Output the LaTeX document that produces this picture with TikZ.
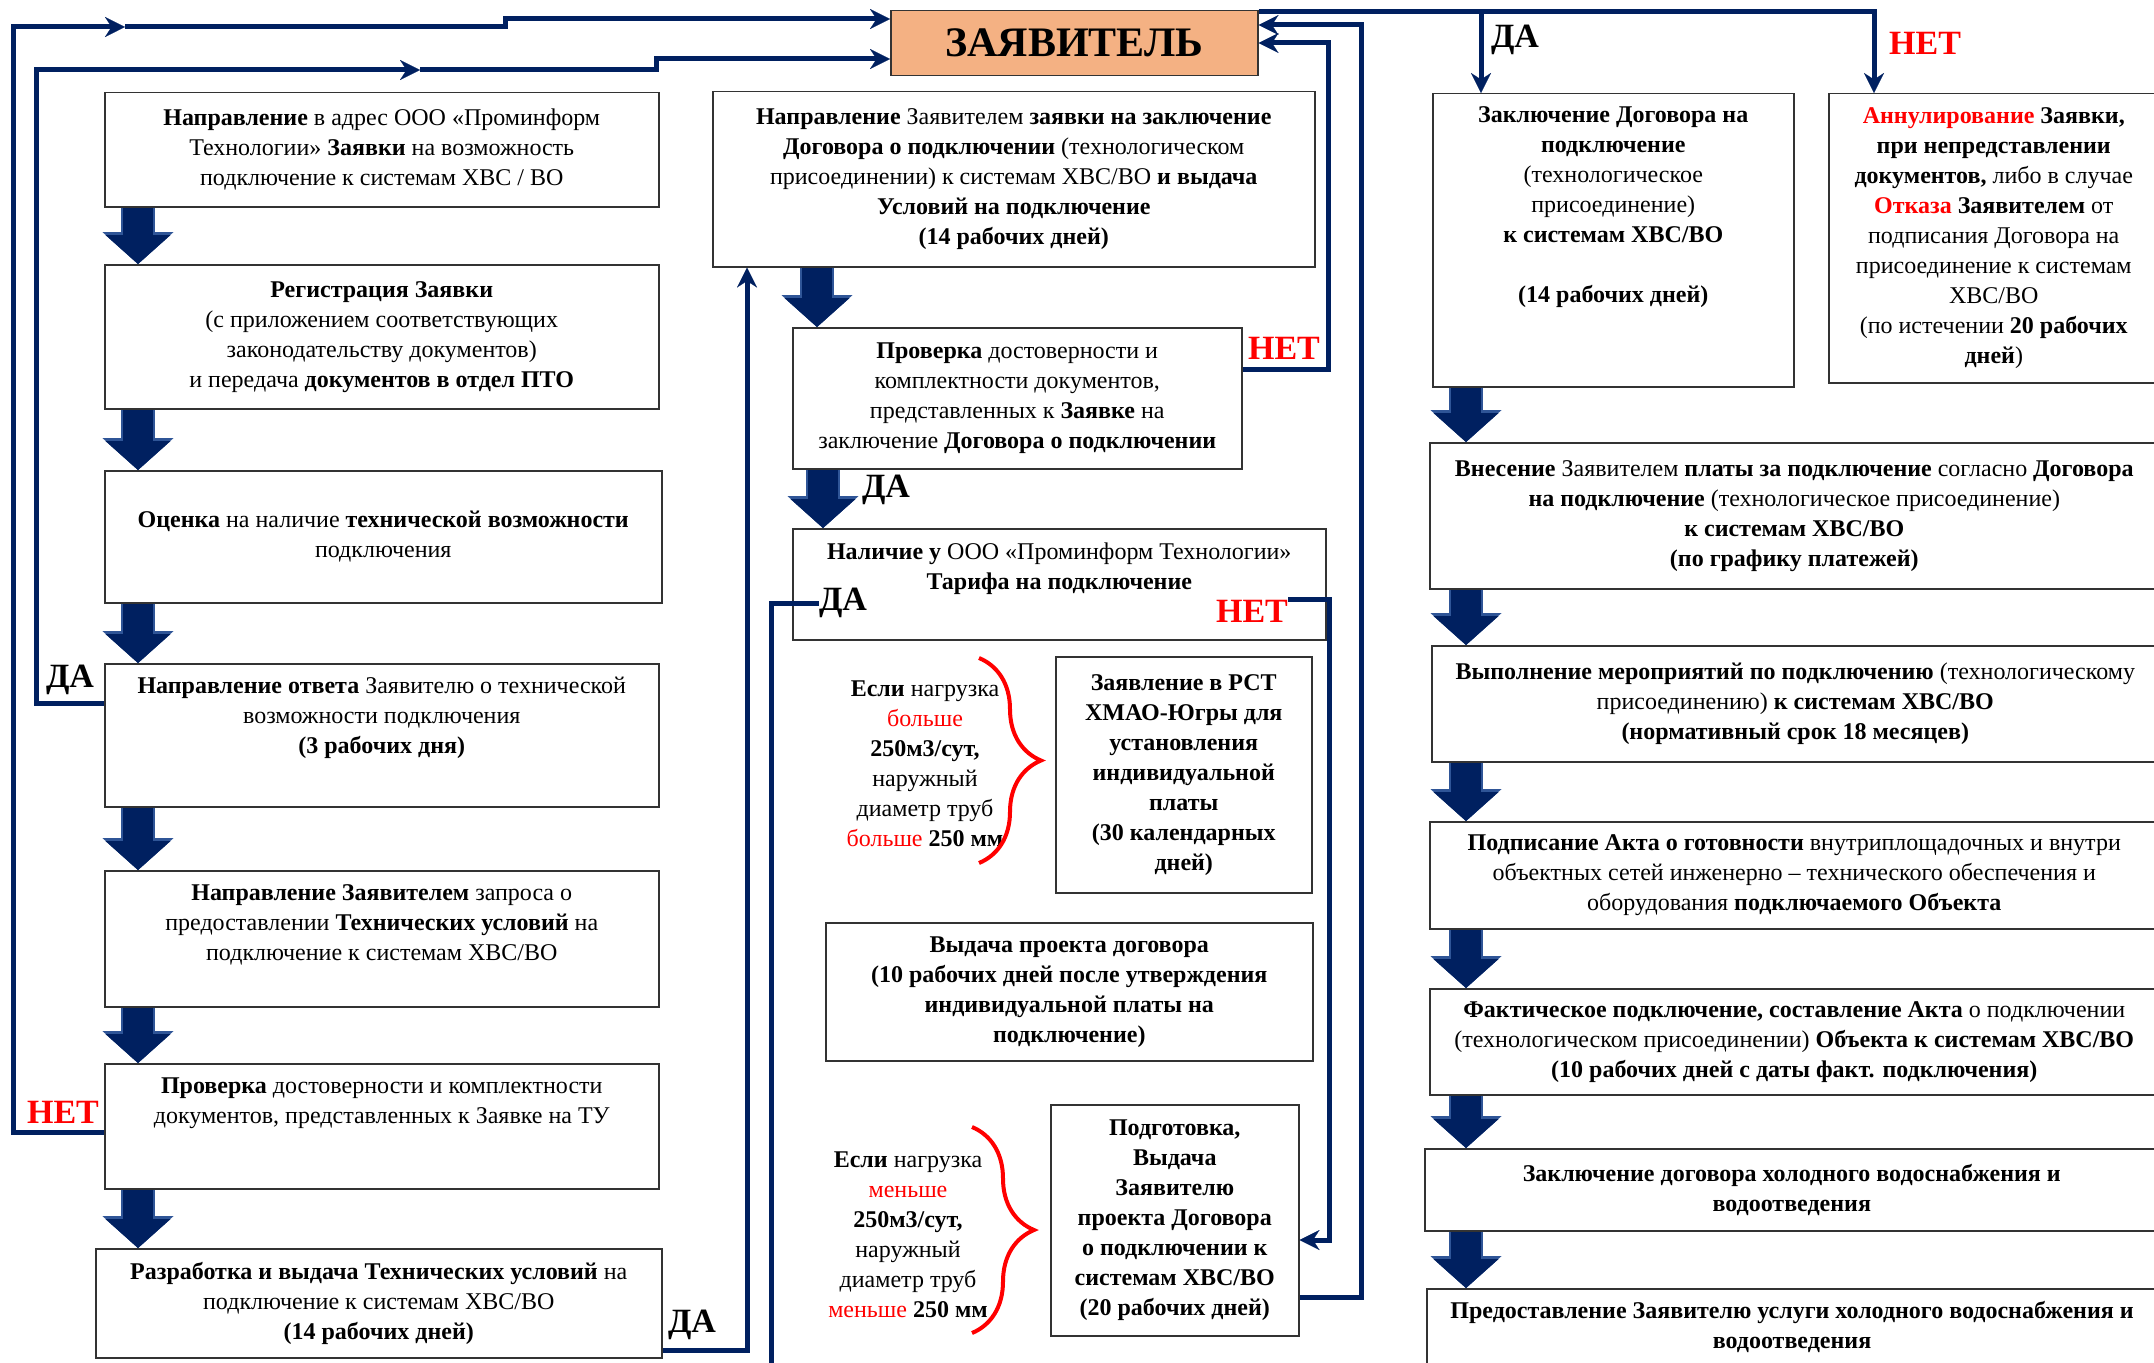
\documentclass[tikz,border=0pt]{standalone}
\usepackage{fontspec}
\setmainfont{Liberation Serif}
\usetikzlibrary{arrows.meta, positioning, decorations.pathreplacing}

\definecolor{navy}{RGB}{0,32,96}
\definecolor{edgeblue}{RGB}{47,85,151}
\definecolor{peach}{RGB}{244,177,131}
\definecolor{netred}{RGB}{255,0,0}
\newcommand{\rd}[1]{\textcolor{netred}{#1}}

\tikzset{
  box/.style={draw=black!80, line width=1.5pt, fill=white, anchor=north west, inner sep=0pt,
    align=center, font=\fontsize{24}{30}\selectfont},
  txt/.style={inner sep=0pt, align=center, font=\fontsize{24}{30}\selectfont},
  lbl/.style={inner sep=0pt, font=\bfseries\fontsize{34}{34}\selectfont},
  conn/.style={draw=navy, line width=5pt},
  arr/.style={-{Stealth[length=20pt, width=20pt, line width=0.1pt]}},
  fatarr/.style={draw=navy, line width=30pt, -{Triangle[length=29pt, width=65pt, line width=0.1pt]},
    preaction={draw=edgeblue, line width=34pt, -{Triangle[length=32pt, width=71pt, line width=0.1pt]}}},
  curly/.style={draw=netred, line width=4pt, decorate, decoration={brace, amplitude=62pt}}
}

\begin{document}
\begin{tikzpicture}[x=1pt, y=-1pt]
  \useasboundingbox (0,0) rectangle (2154,1362);
  \clip (0,0) rectangle (2154,1362);

  % Applicant
  \node[box, fill=peach, minimum width=367pt, minimum height=65pt,
    font=\bfseries\fontsize{42}{42}\selectfont] (zav) at (890,10) {ЗАЯВИТЕЛЬ};

  % Left column
  \node[box, minimum width=554pt, minimum height=114pt] (b1) at (104,92)
    {\textbf{Направление} в адрес ООО «Проминформ\\Технологии» \textbf{Заявки} на возможность\\подключение к системам ХВС / ВО};
  \node[box, minimum width=554pt, minimum height=144pt] (b2) at (104,264)
    {\textbf{Регистрация Заявки}\\(с приложением соответствующих\\законодательству документов)\\и передача \textbf{документов в отдел ПТО}};
  \node[box, minimum width=557pt, minimum height=132pt] (b3) at (104,470)
    {\textbf{Оценка} на наличие \textbf{технической возможности}\\подключения};
  \node[box, minimum width=554pt, minimum height=143pt] (b4) at (104,663) {};
  \node[txt] (b4t) at ([yshift=17pt]b4.center)
    {\textbf{Направление ответа} Заявителю о технической\\возможности подключения\\\textbf{(3 рабочих дня)}};
  \node[box, minimum width=554pt, minimum height=136pt] (b5) at (104,870) {};
  \node[txt] (b5t) at ([yshift=14pt]b5.center)
    {\textbf{Направление Заявителем} запроса о\\предоставлении \textbf{Технических условий} на\\подключение к системам ХВС/ВО};
  \node[box, minimum width=554pt, minimum height=125pt] (b6) at (104,1063) {};
  \node[txt] (b6t) at ([yshift=23pt]b6.center)
    {\textbf{Проверка} достоверности и комплектности\\документов, представленных к Заявке на ТУ};
  \node[box, minimum width=566pt, minimum height=109pt] (b7) at (95,1248)
    {\textbf{Разработка и выдача Технических условий} на\\подключение к системам ХВС/ВО\\\textbf{(14 рабочих дней)}};

  % Middle column
  \node[box, minimum width=602pt, minimum height=175pt] (b8) at (712,91)
    {\textbf{Направление} Заявителем \textbf{заявки на заключение}\\\textbf{Договора о подключении} (технологическом\\присоединении) к системам ХВС/ВО \textbf{и выдача}\\\textbf{Условий на подключение}\\\textbf{(14 рабочих дней)}};
  \node[box, minimum width=449pt, minimum height=141pt] (b9) at (792,327)
    {\textbf{Проверка} достоверности и\\комплектности документов,\\представленных к \textbf{Заявке} на\\заключение \textbf{Договора о подключении}};
  \node[box, minimum width=533pt, minimum height=111pt] (b10) at (792,528) {};
  \node[txt] (b10t) at ([yshift=16pt]b10.center)
    {\textbf{Наличие у} ООО «Проминформ Технологии»\\\textbf{Тарифа на подключение}};
  \node[box, minimum width=256pt, minimum height=236pt, font=\bfseries\fontsize{24}{30}\selectfont] (b11) at (1055,656)
    {Заявление в РСТ\\ХМАО-Югры для\\установления\\индивидуальной\\платы\\(30 календарных\\дней)};
  \node[box, minimum width=487pt, minimum height=138pt, font=\bfseries\fontsize{24}{30}\selectfont] (b12) at (825,922)
    {Выдача проекта договора\\(10 рабочих дней после утверждения\\индивидуальной платы на\\подключение)};
  \node[box, minimum width=248pt, minimum height=231pt, font=\bfseries\fontsize{24}{30}\selectfont] (b13) at (1050,1104)
    {Подготовка,\\Выдача\\Заявителю\\проекта Договора\\о подключении к\\системам ХВС/ВО\\(20 рабочих дней)};

  % Load conditions
  \node[txt] (br1t) at (925,764)
    {\textbf{Если} нагрузка\\\rd{больше}\\\textbf{250м3/сут,}\\наружный\\диаметр труб\\\rd{больше} \textbf{250 мм}};
  \draw[curly] (979,658) -- (979,863);
  \node[txt] (br2t) at (908,1235)
    {\textbf{Если} нагрузка\\\rd{меньше}\\\textbf{250м3/сут,}\\наружный\\диаметр труб\\\rd{меньше} \textbf{250 мм}};
  \draw[curly] (972,1127) -- (972,1333);

  % Right column
  \node[box, minimum width=361pt, minimum height=293pt] (b14) at (1432,93) {};
  \node[txt] (b14t) at ([yshift=33pt]b14.center)
    {\textbf{Заключение Договора на}\\\textbf{подключение}\\(технологическое\\присоединение)\\\textbf{к системам ХВС/ВО}\\[30pt]\textbf{(14 рабочих дней)}};
  \node[box, minimum width=330pt, minimum height=289pt] (b15) at (1828,93)
    {\rd{\textbf{Аннулирование}} \textbf{Заявки,}\\\textbf{при непредставлении}\\\textbf{документов,} либо в случае\\\rd{\textbf{Отказа}} \textbf{Заявителем} от\\подписания Договора на\\присоединение к системам\\ХВС/ВО\\(по истечении \textbf{20 рабочих}\\\textbf{дней})};
  \node[box, minimum width=729pt, minimum height=146pt] (b16) at (1429,442)
    {\textbf{Внесение} Заявителем \textbf{платы за подключение} согласно \textbf{Договора}\\\textbf{на подключение} (технологическое присоединение)\\\textbf{к системам ХВС/ВО}\\\textbf{(по графику платежей)}};
  \node[box, minimum width=727pt, minimum height=116pt] (b17) at (1431,645)
    {\textbf{Выполнение мероприятий по подключению} (технологическому\\присоединению) \textbf{к системам ХВС/ВО}\\\textbf{(нормативный срок 18 месяцев)}};
  \node[box, minimum width=729pt, minimum height=107pt] (b18) at (1429,821)
    {\textbf{Подписание Акта о готовности} внутриплощадочных и внутри\\объектных сетей инженерно – технического обеспечения и\\оборудования \textbf{подключаемого Объекта}};
  \node[box, minimum width=729pt, minimum height=106pt] (b19) at (1429,988)
    {\textbf{Фактическое подключение, составление Акта} о подключении\\(технологическом присоединении) \textbf{Объекта к системам ХВС/ВО}\\\textbf{(10 рабочих дней с даты факт. подключения)}};
  \node[box, minimum width=734pt, minimum height=82pt, font=\bfseries\fontsize{24}{30}\selectfont] (b20) at (1424,1148)
    {Заключение договора холодного водоснабжения и\\водоотведения};
  \node[box, minimum width=732pt, minimum height=100pt] (b21) at (1426,1288) {};
  \node[txt, font=\bfseries\fontsize{24}{30}\selectfont] (b21t) at (1792,1327)
    {Предоставление Заявителю услуги холодного водоснабжения и\\водоотведения};

  % Fat arrows
  \coordinate (lx) at (138,0);
  \coordinate (mx) at (817,0);
  \coordinate (mx2) at (823,0);
  \coordinate (rx) at (1466,0);
  \draw[fatarr] (b1.south -| lx) -- (b2.north -| lx);
  \draw[fatarr] (b2.south -| lx) -- (b3.north -| lx);
  \draw[fatarr] (b3.south -| lx) -- (b4.north -| lx);
  \draw[fatarr] (b4.south -| lx) -- (b5.north -| lx);
  \draw[fatarr] (b5.south -| lx) -- (b6.north -| lx);
  \draw[fatarr] (b6.south -| lx) -- (b7.north -| lx);
  \draw[fatarr] (b8.south -| mx) -- (b9.north -| mx);
  \draw[fatarr] (b9.south -| mx2) -- (b10.north -| mx2);
  \draw[fatarr] (b14.south -| rx) -- (b16.north -| rx);
  \draw[fatarr] (b16.south -| rx) -- (b17.north -| rx);
  \draw[fatarr] (b17.south -| rx) -- (b18.north -| rx);
  \draw[fatarr] (b18.south -| rx) -- (b19.north -| rx);
  \draw[fatarr] (b19.south -| rx) -- (b20.north -| rx);
  \draw[fatarr] (b20.south -| rx) -- (b21.north -| rx);

  % Labels
  \node[lbl] (da1) at (70,680) {ДА};
  \node[lbl, text=netred] (net1) at (63,1112) {НЕТ};
  \node[lbl] (da2) at (692,1325) {ДА};
  \node[lbl, text=netred] (net2) at (1284,348) {НЕТ};
  \node[lbl] (da3) at (886,490) {ДА};
  \node[lbl] (danal) at (843,603) {ДА};
  \node[lbl, text=netred] (netnal) at (1252,611) {НЕТ};
  \node[lbl] (da4) at (1515,40) {ДА};
  \node[lbl, text=netred] (net4) at (1925,43) {НЕТ};

  % Returns to the applicant
  \coordinate (k1) at (13,1132);
  \coordinate (m1) at (125,27);
  \coordinate (k2) at (505,19);
  \draw[conn, arr] (b6.west |- k1) -- (k1) |- (m1);
  \draw[conn, arr] (m1) -| (k2) -- (zav.west |- k2);
  \coordinate (k3) at (36,703);
  \coordinate (m2) at (420,70);
  \coordinate (k4) at (656,59);
  \draw[conn, arr] (b4.west |- k3) -- (k3) |- (m2);
  \draw[conn, arr] (m2) -| (k4) -- (zav.west |- k4);
  \coordinate (k5) at (1328,369);
  \coordinate (k6) at (1328,43);
  \draw[conn, arr] (b9.east |- k5) -- (k5) -- (k6) -- (zav.east |- k6);
  \coordinate (k7) at (1361,1297);
  \coordinate (k8) at (1361,25);
  \draw[conn, arr] (b13.east |- k7) -- (k7) -- (k8) -- (zav.east |- k8);

  % Tariff decision
  \coordinate (k10) at (1329,1240);
  \draw[conn, arr] (netnal.north east) -| (k10) -- (b13.east |- k10);
  \coordinate (dn) at (771,1375);
  \draw[conn] (danal.west) -| (dn);
  \coordinate (k11) at (747,1350);
  \draw[conn, arr] (b7.east |- k11) -- (k11) -- (k11 |- b8.south);

  % Contract decision
  \coordinate (fork) at (1481,12);
  \coordinate (k12) at (1874,12);
  \draw[conn, arr] (zav.north east |- k12) -- (k12) -- (k12 |- b15.north);
  \draw[conn, arr] (fork) -- (fork |- b14.north);
\end{tikzpicture}
\end{document}
